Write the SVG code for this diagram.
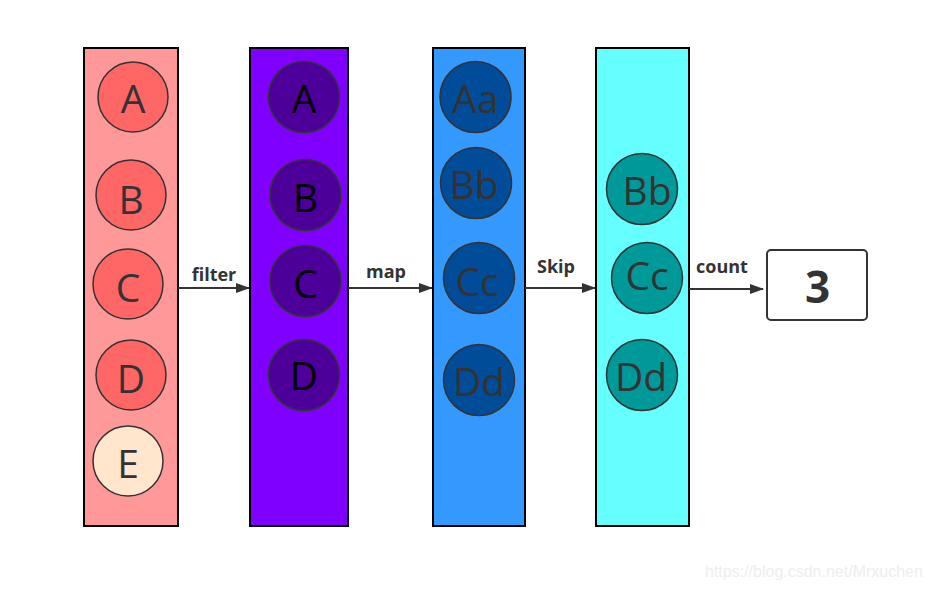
<svg xmlns="http://www.w3.org/2000/svg" width="928" height="589" viewBox="0 0 928 589">
<style>
.col{stroke:#000;stroke-width:2}
.c{stroke:#333;stroke-width:1.5}
.t{font-family:"Open Sans","Noto Sans",sans-serif;font-size:39px;text-anchor:middle;fill:#333}
.tk{fill:#000}
.lbl{font-family:"Open Sans","Noto Sans",sans-serif;font-size:18px;font-weight:bold;fill:#333;text-anchor:middle}
.con{stroke:#333;stroke-width:2;fill:none;marker-end:url(#ah)}
</style>
<defs>
<marker id="ah" markerWidth="14" markerHeight="10" refX="13" refY="5" orient="auto" markerUnits="userSpaceOnUse">
<path d="M0,0 L14,5 L0,10 Z" fill="#333"/>
</marker>
</defs>
<rect width="928" height="589" fill="#fff"/>
<g id="col1">
<rect class="col" x="84" y="48" width="94" height="478" fill="#FF9999"/>
<circle class="c" cx="133" cy="97" r="35" fill="#FF6666"/><text class="t" x="133" y="113">A</text>
<circle class="c" cx="131" cy="195" r="35" fill="#FF6666"/><text class="t" x="131" y="214">B</text>
<circle class="c" cx="128" cy="284" r="35" fill="#FF6666"/><text class="t" x="128" y="302">C</text>
<circle class="c" cx="131" cy="375" r="35" fill="#FF6666"/><text class="t" x="131" y="393">D</text>
<circle class="c" cx="128" cy="461" r="35" fill="#FFE6CC"/><text class="t" x="128" y="478">E</text>
</g>
<g id="col2">
<rect class="col" x="250" y="48" width="98" height="478" fill="#7F00FF"/>
<ellipse class="c" cx="304" cy="97" rx="35.5" ry="35.5" fill="#4C0099"/><text class="t tk" x="304" y="113">A</text>
<ellipse class="c" cx="305.5" cy="195" rx="35.5" ry="35.5" fill="#4C0099"/><text class="t tk" x="305.5" y="212">B</text>
<ellipse class="c" cx="305.5" cy="281" rx="35.5" ry="35.5" fill="#4C0099"/><text class="t tk" x="305.5" y="298">C</text>
<ellipse class="c" cx="304" cy="375" rx="35.5" ry="35.5" fill="#4C0099"/><text class="t tk" x="304" y="390">D</text>
</g>
<g id="col3">
<rect class="col" x="433" y="48" width="92" height="478" fill="#3399FF"/>
<circle class="c" cx="475.5" cy="97" r="35.5" fill="#004C99"/><text class="t" x="475.5" y="113">Aa</text>
<circle class="c" cx="476" cy="183" r="35.5" fill="#004C99"/><text class="t" x="474" y="199">Bb</text>
<circle class="c" cx="479" cy="278" r="35.5" fill="#004C99"/><text class="t" x="477" y="296">Cc</text>
<circle class="c" cx="479" cy="380" r="35.5" fill="#004C99"/><text class="t" x="479" y="396">Dd</text>
</g>
<g id="col4">
<rect class="col" x="596" y="48" width="93" height="478" fill="#66FFFF"/>
<circle class="c" cx="642" cy="189" r="35.5" fill="#009999"/><text class="t" x="647" y="205">Bb</text>
<circle class="c" cx="647" cy="278" r="35.5" fill="#009999"/><text class="t" x="647" y="290">Cc</text>
<circle class="c" cx="642" cy="375" r="35.5" fill="#009999"/><text class="t" x="641" y="391">Dd</text>
</g>
<g id="result">
<rect x="767" y="250" width="100" height="70" rx="4" fill="#fff" stroke="#333" stroke-width="2"/>
<text x="817.5" y="303" font-family="'Open Sans','Noto Sans',sans-serif" font-size="44" font-weight="bold" fill="#333" text-anchor="middle">3</text>
</g>
<g id="connectors">
<line class="con" x1="178" y1="288" x2="249" y2="288"/>
<text class="lbl" x="214" y="281">filter</text>
<line class="con" x1="348" y1="288" x2="432" y2="288"/>
<text class="lbl" x="386" y="278">map</text>
<line class="con" x1="525" y1="288" x2="595" y2="288"/>
<text class="lbl" x="556" y="273">Skip</text>
<line class="con" x1="689" y1="289" x2="763" y2="289"/>
<text class="lbl" x="722" y="273">count</text>
</g>
<text x="705" y="577" font-family="'Liberation Sans',Arial,sans-serif" font-size="16" fill="#eeeeee">https://blog.csdn.net/Mrxuchen</text>
</svg>
